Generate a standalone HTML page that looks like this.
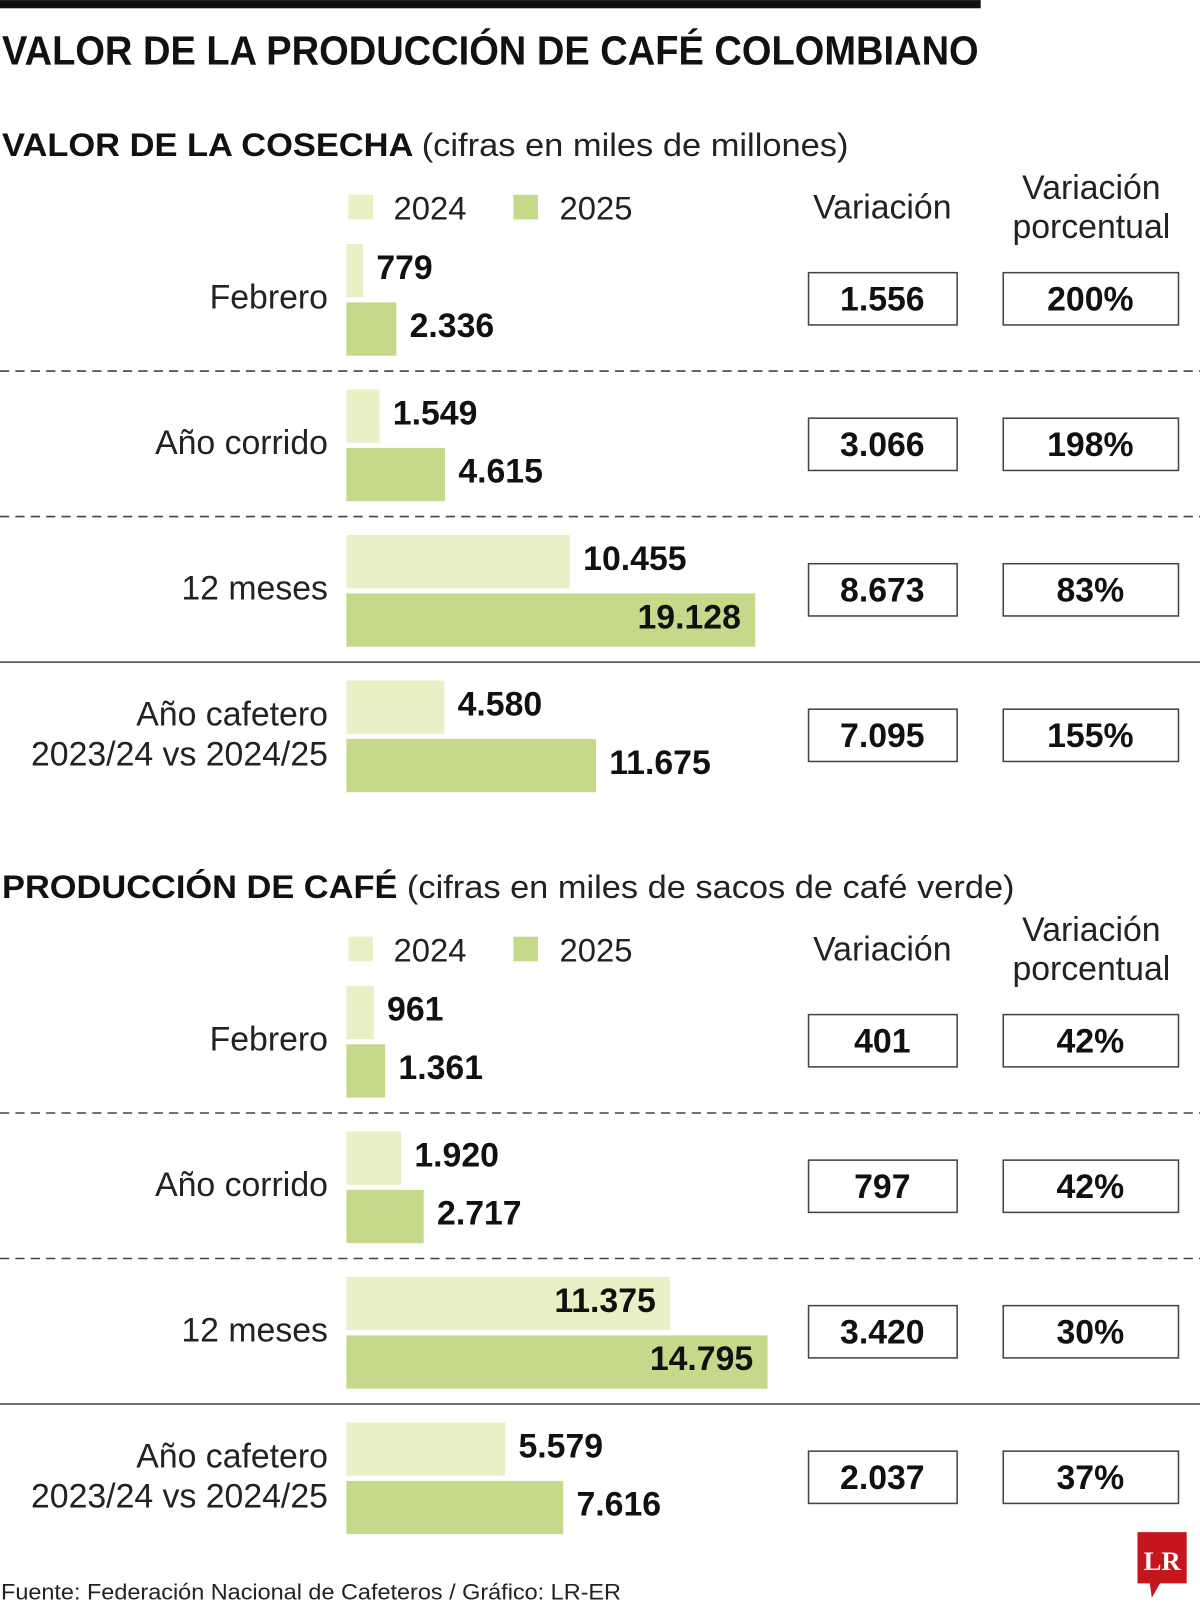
<!DOCTYPE html>
<html><head><meta charset="utf-8"><style>
html,body{margin:0;padding:0;background:#fff}
svg{display:block}
text{font-family:"Liberation Sans",sans-serif}
.b{font-weight:bold;fill:#111}
.l{fill:#222}
</style></head><body>
<svg id="c" width="1200" height="1607" viewBox="0 0 1171 1568" xmlns="http://www.w3.org/2000/svg">
<rect x="0" y="0" width="957" height="8" fill="#111"/>
<text class="b" x="2" y="63" font-size="40" textLength="953" lengthAdjust="spacingAndGlyphs">VALOR DE LA PRODUCCIÓN DE CAFÉ COLOMBIANO</text>
<text class="l" x="1" y="1561" font-size="22" textLength="605" lengthAdjust="spacingAndGlyphs">Fuente: Federación Nacional de Cafeteros / Gráfico: LR-ER</text>
<g>
<path d="M1110 1495h48v50h-26l-8 14 -2-14h-12z" fill="#c4161c"/>
<text x="1134" y="1532" font-size="26" font-weight="bold" fill="#fff" text-anchor="middle" style="font-family:'Liberation Serif',serif">LR</text>
</g>
</svg>
<script>
const labels = ["Febrero","Año corrido","12 meses","Año cafetero"];
const valor2024 = [779, 1549, 10455, 4580];
const valor2025 = [2336, 4615, 19128, 11675];
const valorVar = ["1.556","3.066","8.673","7.095"];
const valorPct = ["200%","198%","83%","155%"];
const prod2024 = [961, 1920, 11375, 5579];
const prod2025 = [1361, 2717, 14795, 7616];
const prodVar = ["401","797","3.420","2.037"];
const prodPct = ["42%","42%","30%","37%"];

const svg = document.getElementById('c');
const NS = "http://www.w3.org/2000/svg";
function el(tag, attrs, txt){const e=document.createElementNS(NS,tag);for(const k in attrs)e.setAttribute(k,attrs[k]);if(txt!=null)e.textContent=txt;svg.appendChild(e);return e;}
function fmt(v){return v.toLocaleString('de-DE');}

function panel(top, title, sub, subLen, a, b, vars, pcts, maxV, maxW, key){
  const x0 = 338;
  const sx = v => v / maxV * maxW;
  let t = el('text',{x:2,y:top+14,'font-size':32,class:'b'});
  
  
  const s1=document.createElementNS(NS,'tspan');s1.textContent=title+' ';t.appendChild(s1);
  const s2=document.createElementNS(NS,'tspan');s2.setAttribute('font-weight','normal');s2.setAttribute('fill','#222');s2.textContent=sub;t.appendChild(s2);
  t.setAttribute('textLength',subLen);t.setAttribute('lengthAdjust','spacingAndGlyphs');
  const ly = top+52;
  let r=el('rect',{x:340,y:ly,width:24,height:24,fill:'#eaf0c6'});
  
  
  let lt=el('text',{x:384,y:ly+24,'font-size':32,class:'l'},'2024');
  
  
  r=el('rect',{x:501,y:ly,width:24,height:24,fill:'#c5d98a'});
  
  
  lt=el('text',{x:546,y:ly+24,'font-size':32,class:'l'},'2025');
  
  
  let h=el('text',{x:861,y:ly+23,'font-size':33,class:'l','text-anchor':'middle'},'Variación');
  
  
  h=el('text',{x:1065,y:ly+4,'font-size':33,class:'l','text-anchor':'middle'},'Variación');
  
  
  h=el('text',{x:1065,y:ly+42,'font-size':33,class:'l','text-anchor':'middle'},'porcentual');
  
  
  for(let i=0;i<4;i++){
    const ry = top+100+i*142;
    if(i<3){
      const d=el('line',{x1:0,x2:1171,y1:ry+124,y2:ry+124,stroke:'#444','stroke-width':1.5,'stroke-dasharray':i<2?'9 6':'none'});
      
      
    }
    if(i<3){
      const lb=el('text',{x:320,y:ry+63,'font-size':33,class:'l','text-anchor':'end'},labels[i]);
      
      
    } else {
      let lb=el('text',{x:320,y:ry+44,'font-size':33,class:'l','text-anchor':'end'},'Año cafetero');
      
      
      lb=el('text',{x:320,y:ry+83,'font-size':33,class:'l','text-anchor':'end'},'2023/24 vs 2024/25');
      
      
    }
    const rows=[[a[i],'#eaf0c6',ry,'2024'],[b[i],'#c5d98a',ry+57,'2025']];
    for(const [v,col,by,yr] of rows){
      const w=sx(v);
      const bar=el('rect',{x:x0,y:by,width:w,height:52,fill:col});
      
      
      const inside = w>300;
      const vt=el('text',{x:inside?x0+w-14:x0+w+13,y:by+34,'font-size':33,class:'b','text-anchor':inside?'end':'start'},fmt(v));
      
      
    }
    const cy = ry+28;
    let bx=el('rect',{x:789,y:cy,width:145,height:51,fill:'none',stroke:'#444','stroke-width':1.5});
    
    
    let bt=el('text',{x:861,y:cy+37,'font-size':33,class:'b','text-anchor':'middle'},vars[i]);
    
    
    bx=el('rect',{x:979,y:cy,width:171,height:51,fill:'none',stroke:'#444','stroke-width':1.5});
    
    
    bt=el('text',{x:1064,y:cy+37,'font-size':33,class:'b','text-anchor':'middle'},pcts[i]);
    
    
  }
}
panel(138,'VALOR DE LA COSECHA','(cifras en miles de millones)',826,valor2024,valor2025,valorVar,valorPct,19128,399,'valor');
panel(862,'PRODUCCIÓN DE CAFÉ','(cifras en miles de sacos de café verde)',988,prod2024,prod2025,prodVar,prodPct,14795,411,'prod');
</script>
</body></html>
